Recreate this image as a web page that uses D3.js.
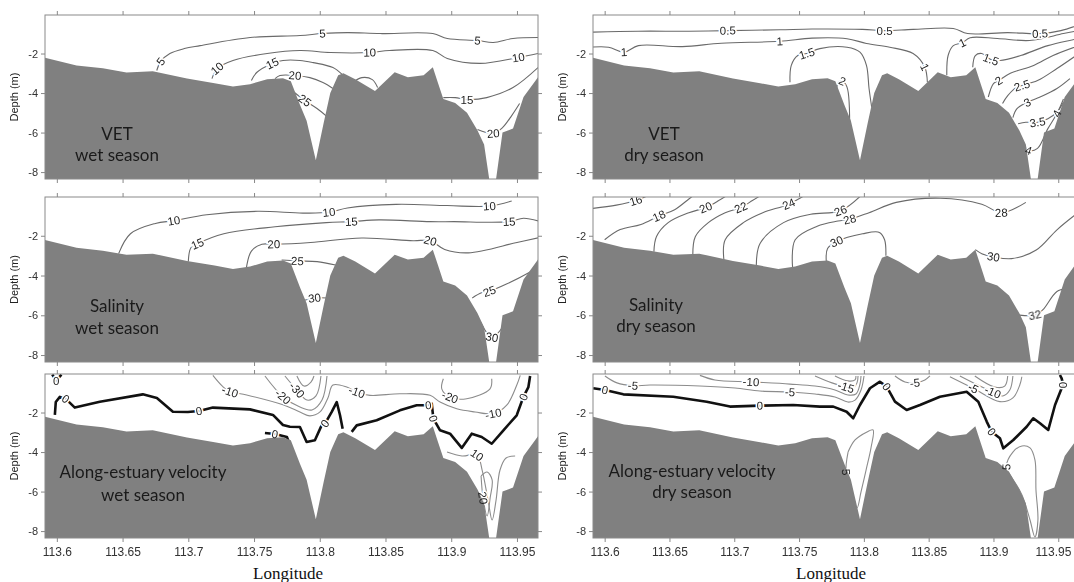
<!DOCTYPE html>
<html lang="en">
<head>
  <meta charset="UTF-8">
  <title>Contour sections</title>
  <script src="https://d3js.org/d3.v7.min.js"></script>
  <style>
    body { margin: 0; background: #fff; }
    .tick text { font-family: Arial, "Liberation Sans", sans-serif; fill: #333; }
    .tick line { stroke: #888; }
  </style>
</head>
<body>
<script>
  // tick values
  const xTicks = [113.6, 113.65, 113.7, 113.75, 113.8, 113.85, 113.9, 113.95];
  const yTicks = [-2, -4, -6, -8];

  // bottom profile (longitude, depth)
  const bathy = [[113.59,-2.2],[113.615,-2.6],[113.635,-2.75],[113.653,-2.96],[113.673,-2.9],[113.699,-3.27],[113.72,-3.5],[113.734,-3.67],[113.747,-3.55],[113.76,-3.3],[113.772,-3.25],[113.778,-3.4],[113.785,-4.6],[113.79,-5.4],[113.797,-7.4],[113.803,-5.5],[113.808,-4.0],[113.814,-3.1],[113.818,-3.0],[113.827,-3.3],[113.842,-3.9],[113.857,-2.95],[113.867,-3.2],[113.879,-3.1],[113.886,-2.7],[113.89,-3.5],[113.894,-4.3],[113.903,-4.5],[113.912,-5.0],[113.92,-5.9],[113.925,-6.6],[113.929,-8.4],[113.934,-8.4],[113.939,-6.0],[113.947,-5.8],[113.955,-4.2],[113.966,-3.2]];

  // contour lines: level, points (longitude, depth), indices of labelled points
  const vetWet = [
    {v:"5", pts:[[113.676,-2.86],[113.679,-2.4],[113.686,-2.0],[113.697,-1.75],[113.709,-1.6],[113.747,-1.19],[113.785,-1.09],[113.802,-0.99],[113.821,-0.94],[113.846,-0.99],[113.886,-0.99],[113.897,-1.24],[113.92,-1.34],[113.932,-1.44],[113.947,-1.24],[113.966,-1.19]], lab:[1,7,12]},
    {v:"10", pts:[[113.718,-3.27],[113.722,-2.76],[113.734,-2.35],[113.76,-2.0],[113.785,-1.85],[113.808,-1.95],[113.838,-1.95],[113.853,-1.85],[113.886,-1.85],[113.897,-2.25],[113.922,-2.5],[113.951,-2.2],[113.966,-2.0]], lab:[1,6,11]},
    {v:"15", pts:[[113.748,-3.37],[113.752,-2.96],[113.764,-2.5],[113.772,-2.35],[113.785,-2.35],[113.795,-2.46],[113.81,-2.71],[113.817,-3.06]], lab:[2]},
    {v:"15", pts:[[113.894,-4.23],[113.903,-4.23],[113.912,-4.33],[113.927,-4.23],[113.947,-3.72],[113.966,-2.71]], lab:[2]},
    {v:"20", pts:[[113.766,-3.27],[113.7697,-3.11],[113.7811,-3.11],[113.7925,-3.22],[113.8024,-3.47],[113.81,-3.77]], lab:[2]},
    {v:"20", pts:[[113.825,-3.47],[113.832,-3.22],[113.84,-3.32],[113.844,-3.72]], lab:[]},
    {v:"20", pts:[[113.92,-5.85],[113.932,-6.05],[113.939,-5.75],[113.946,-5.14],[113.952,-4.53]], lab:[1]},
    {v:"25", pts:[[113.7788,-3.87],[113.7887,-4.38],[113.7979,-4.78],[113.8055,-5.19]], lab:[1]}
  ];

  const vetDry = [
    {v:"0.5", pts:[[113.589,-0.92],[113.626,-0.87],[113.665,-0.87],[113.695,-0.84],[113.735,-0.8],[113.76,-0.76],[113.799,-0.78],[113.816,-0.84],[113.838,-0.78],[113.869,-0.73],[113.88,-0.99],[113.911,-0.94],[113.936,-0.99],[113.952,-0.84],[113.966,-0.55]], lab:[3,7,12]},
    {v:"1", pts:[[113.589,-1.68],[113.603,-1.68],[113.615,-1.93],[113.626,-1.6],[113.66,-1.65],[113.69,-1.48],[113.735,-1.38],[113.76,-1.22],[113.787,-1.25],[113.802,-1.49],[113.82,-1.68],[113.838,-2.0],[113.847,-2.69],[113.849,-3.45]], lab:[2,6,12]},
    {v:"1", pts:[[113.864,-3.1],[113.865,-2.1],[113.869,-1.6],[113.876,-1.45],[113.882,-1.2],[113.903,-1.24],[113.928,-1.34],[113.954,-0.99],[113.966,-0.84]], lab:[3]},
    {v:"1.5", pts:[[113.743,-3.45],[113.744,-2.6],[113.749,-2.1],[113.756,-2.0],[113.766,-1.75],[113.787,-1.68],[113.797,-1.93],[113.802,-2.6],[113.804,-3.77],[113.806,-4.7]], lab:[3]},
    {v:"1.5", pts:[[113.884,-2.69],[113.886,-2.1],[113.891,-2.0],[113.898,-2.3],[113.905,-2.35],[113.921,-2.1],[113.942,-1.6],[113.966,-1.24]], lab:[3]},
    {v:"2", pts:[[113.779,-4.0],[113.78,-3.5],[113.7834,-3.4],[113.787,-3.7],[113.789,-6.0]], lab:[2]},
    {v:"2", pts:[[113.896,-4.2],[113.9,-3.52],[113.904,-3.37],[113.913,-3.0],[113.931,-2.6],[113.946,-2.1],[113.966,-1.6]], lab:[2]},
    {v:"2.5", pts:[[113.907,-4.53],[113.911,-4.13],[113.918,-3.7],[113.922,-3.62],[113.934,-3.37],[113.949,-2.76],[113.966,-2.0]], lab:[3]},
    {v:"3", pts:[[113.915,-5.24],[113.918,-4.8],[113.926,-4.47],[113.936,-4.2],[113.949,-3.77],[113.959,-3.27]], lab:[2]},
    {v:"3.5", pts:[[113.919,-5.55],[113.925,-5.48],[113.934,-5.48],[113.942,-5.3],[113.949,-4.97],[113.954,-4.47]], lab:[2]},
    {v:"4", pts:[[113.923,-6.56],[113.927,-6.9],[113.934,-6.8],[113.942,-5.8],[113.949,-5.04],[113.954,-4.3]], lab:[1,4]}
  ];

  const salWet = [
    {v:"10", pts:[[113.647,-2.9],[113.656,-1.9],[113.675,-1.38],[113.689,-1.24],[113.714,-0.94],[113.753,-0.77],[113.787,-0.86],[113.807,-0.82],[113.821,-0.6],[113.858,-0.42],[113.897,-0.48],[113.929,-0.51],[113.946,-0.25]], lab:[3,7,11]},
    {v:"15", pts:[[113.7,-3.3],[113.702,-2.6],[113.707,-2.4],[113.727,-1.9],[113.766,-1.55],[113.805,-1.34],[113.824,-1.29],[113.845,-1.2],[113.884,-1.29],[113.902,-1.29],[113.944,-1.29],[113.955,-1.12],[113.968,-1.29]], lab:[2,6,10]},
    {v:"20", pts:[[113.744,-3.7],[113.748,-2.77],[113.756,-2.43],[113.765,-2.43],[113.793,-2.34],[113.832,-2.11],[113.871,-2.25],[113.884,-2.25],[113.895,-2.69],[113.913,-2.86],[113.95,-2.34],[113.968,-2.08]], lab:[3,7]},
    {v:"25", pts:[[113.771,-3.22],[113.783,-3.27],[113.798,-3.3],[113.812,-3.47]], lab:[1]},
    {v:"25", pts:[[113.916,-5.13],[113.923,-4.87],[113.929,-4.79],[113.942,-4.43],[113.96,-3.82],[113.968,-3.5]], lab:[2]},
    {v:"30", pts:[[113.786,-5.3],[113.796,-5.13],[113.806,-5.13]], lab:[1]},
    {v:"30", pts:[[113.922,-6.3],[113.931,-7.1],[113.94,-6.5]], lab:[1]}
  ];

  const salDry = [
    {v:"16", pts:[[113.59,-0.63],[113.609,-0.46],[113.624,-0.23],[113.636,0.1]], lab:[2]},
    {v:"18", pts:[[113.6,-2.2],[113.612,-1.69],[113.628,-1.43],[113.642,-1.0],[113.654,-0.69],[113.665,-0.15],[113.67,0.1]], lab:[3]},
    {v:"20", pts:[[113.638,-2.8],[113.64,-2.04],[113.649,-1.34],[113.665,-0.84],[113.678,-0.58],[113.688,-0.23],[113.696,0.1]], lab:[4]},
    {v:"22", pts:[[113.668,-3.0],[113.67,-2.04],[113.68,-1.34],[113.693,-0.84],[113.705,-0.58],[113.714,-0.23],[113.722,0.1]], lab:[4]},
    {v:"24", pts:[[113.692,-3.2],[113.693,-2.2],[113.707,-1.34],[113.722,-0.84],[113.742,-0.41],[113.756,0.1]], lab:[4]},
    {v:"26", pts:[[113.717,-3.5],[113.72,-2.38],[113.738,-1.34],[113.759,-0.92],[113.782,-0.74],[113.799,0.1]], lab:[4]},
    {v:"28", pts:[[113.745,-3.6],[113.747,-2.2],[113.764,-1.52],[113.78,-1.26],[113.789,-1.17],[113.804,-0.84],[113.825,-0.32],[113.859,-0.11],[113.891,-0.41],[113.906,-0.84],[113.925,-0.32]], lab:[4,9]},
    {v:"30", pts:[[113.771,-3.3],[113.772,-2.64],[113.779,-2.29],[113.799,-1.9],[113.812,-1.83],[113.816,-2.2],[113.817,-3.0]], lab:[2]},
    {v:"30", pts:[[113.886,-2.7],[113.891,-2.9],[113.9,-3.06],[113.914,-3.15],[113.933,-2.72],[113.949,-1.7],[113.966,-0.8]], lab:[2]},
    {v:"32", pts:[[113.92,-5.99],[113.932,-5.99],[113.938,-5.73],[113.949,-4.8],[113.959,-4.6],[113.966,-4.5]], lab:[1]}
  ];

  const velWet = [
    {v:"0", z:1, pts:[[113.5985,-2.12],[113.5992,-1.47],[113.6023,-1.21],[113.6068,-1.31],[113.6137,-1.75],[113.6327,-1.45],[113.6654,-1.08],[113.6761,-1.26],[113.6883,-1.96],[113.6997,-1.97],[113.7081,-1.92],[113.7187,-1.75],[113.7469,-1.84],[113.7644,-2.12],[113.772,-2.63],[113.7773,-2.72],[113.7849,-2.73],[113.79,-3.49],[113.7963,-3.4],[113.8014,-2.65],[113.804,-2.56],[113.8091,-1.97],[113.8129,-1.47],[113.8154,-2.14],[113.8174,-2.82]], lab:[3,10,20]},
    {v:"0", z:1, pts:[[113.8243,-2.98],[113.8281,-2.65],[113.8433,-2.39],[113.861,-1.89],[113.8737,-1.63],[113.8826,-1.63],[113.8852,-1.55],[113.8864,-2.31],[113.8915,-2.9],[113.8991,-3.07],[113.908,-3.79],[113.9156,-3.07],[113.9232,-3.24],[113.9308,-3.58],[113.9397,-2.9],[113.9498,-2.14],[113.9549,-1.21],[113.9587,-0.71],[113.96,-0.15]], lab:[5,7,16]},
    {v:"0", z:1, pts:[[113.7583,-3.04],[113.7659,-3.09],[113.775,-3.24],[113.7773,-3.64]], lab:[1]},
    {v:"0", z:1, pts:[[113.5965,-0.08],[113.5995,-0.38],[113.6035,-0.08]], lab:[1]},
    {v:"-10", pts:[[113.7187,-0.12],[113.7263,-0.69],[113.7317,-0.94],[113.7444,-1.11],[113.772,-1.61],[113.7849,-1.97],[113.7925,-2.17],[113.8002,-1.97],[113.8062,-1.26],[113.81,-0.61],[113.8205,-0.71],[113.8281,-0.96],[113.8382,-1.13],[113.861,-1.05],[113.8839,-1.13],[113.8915,-1.47],[113.9042,-1.81],[113.9181,-1.97],[113.932,-2.06],[113.9422,-1.63],[113.9498,-0.62],[113.9525,-0.12]], lab:[2,11,18]},
    {v:"-20", pts:[[113.7583,-0.15],[113.772,-1.2],[113.7849,-1.72],[113.7941,-1.87],[113.8017,-1.37],[113.8055,-0.15]], lab:[1]},
    {v:"-30", pts:[[113.7735,-0.15],[113.7826,-0.86],[113.7903,-1.37],[113.7971,-1.16],[113.8009,-0.15]], lab:[1]},
    {v:"-40", pts:[[113.7826,-0.15],[113.788,-0.66],[113.7933,-0.46],[113.7956,-0.15]], lab:[]},
    {v:"-20", pts:[[113.894,-0.29],[113.8928,-0.8],[113.8991,-1.22],[113.9118,-1.3],[113.9295,-0.8],[113.9308,-0.29]], lab:[2]},
    {v:"10", pts:[[113.8968,-4.0],[113.9082,-4.2],[113.9196,-4.15],[113.9235,-4.91],[113.928,-6.43],[113.9311,-7.44],[113.9341,-6.43],[113.9371,-4.91],[113.9417,-4.3],[113.9486,-4.2]], lab:[2]},
    {v:"20", pts:[[113.9227,-5.21],[113.9242,-6.32],[113.9273,-7.24],[113.9296,-6.32],[113.9311,-5.41],[113.9273,-5.01],[113.9227,-5.21]], lab:[1]}
  ];

  const velDry = [
    {v:"0", z:1, pts:[[113.5912,-0.77],[113.6002,-0.86],[113.6144,-1.08],[113.6529,-1.2],[113.6787,-1.45],[113.6967,-1.7],[113.7198,-1.65],[113.7455,-1.62],[113.7661,-1.7],[113.7764,-1.7],[113.7867,-1.96],[113.7918,-2.29],[113.797,-1.62],[113.8047,-0.77],[113.8124,-0.44],[113.8176,-0.69],[113.824,-1.45],[113.833,-1.87],[113.8433,-1.62],[113.8587,-1.2],[113.8793,-0.95],[113.8883,-1.45],[113.8948,-2.46],[113.8986,-2.97],[113.905,-3.3],[113.9076,-3.81],[113.9153,-3.39],[113.9256,-2.72],[113.9307,-2.29],[113.9359,-2.54],[113.9423,-2.88],[113.9475,-1.62],[113.9526,-0.77],[113.9539,-0.61],[113.9526,-0.27],[113.9513,-0.1]], lab:[1,6,15,23,33]},
    {v:"-5", pts:[[113.6002,-0.15],[113.6095,-0.5],[113.6218,-0.64],[113.635,-0.61],[113.6735,-0.66],[113.7006,-0.76],[113.7198,-0.91],[113.743,-0.96],[113.7623,-1.06],[113.7777,-1.21],[113.7877,-1.47],[113.7932,-1.37],[113.7978,-0.86],[113.8001,-0.15]], lab:[2,7]},
    {v:"-10", pts:[[113.6735,-0.12],[113.6851,-0.35],[113.7129,-0.45],[113.743,-0.56],[113.7623,-0.66],[113.7777,-0.86],[113.7877,-1.11],[113.7939,-1.06],[113.797,-0.56],[113.7978,-0.15]], lab:[2]},
    {v:"-15", pts:[[113.7623,-0.15],[113.7754,-0.5],[113.7862,-0.71],[113.7909,-0.81],[113.7947,-0.5],[113.7955,-0.15]], lab:[2]},
    {v:"-20", pts:[[113.7777,-0.15],[113.7877,-0.4],[113.7932,-0.35],[113.7939,-0.15]], lab:[]},
    {v:"-5", pts:[[113.824,-0.15],[113.8317,-0.45],[113.8394,-0.5],[113.8471,-0.35],[113.851,-0.15]], lab:[2]},
    {v:"-5", pts:[[113.8664,-0.19],[113.8844,-0.77],[113.905,-1.45],[113.915,-1.26],[113.9203,-0.61],[113.9219,-0.19]], lab:[1]},
    {v:"-10", pts:[[113.8741,-0.15],[113.8895,-0.66],[113.8995,-0.96],[113.9072,-1.16],[113.9126,-0.86],[113.915,-0.15]], lab:[2]},
    {v:"-15", pts:[[113.8856,-0.15],[113.901,-0.71],[113.9087,-0.66],[113.911,-0.15]], lab:[]},
    {v:"5", pts:[[113.7878,-4.0],[113.7932,-3.39],[113.8024,-2.98],[113.8071,-2.88],[113.8055,-3.79],[113.8017,-4.91],[113.7978,-6.02],[113.7947,-6.83],[113.7901,-5.92],[113.7862,-5.01],[113.7878,-4.0]], lab:[9]},
    {v:"5", pts:[[113.9143,-5.31],[113.91,-4.75],[113.915,-4.0],[113.922,-3.69],[113.9282,-3.79],[113.932,-4.4],[113.9328,-5.92],[113.9343,-7.44],[113.932,-8.3],[113.9282,-7.44],[113.922,-6.17],[113.9143,-5.31]], lab:[1]}
  ];

  const W = 1074, H = 582;
  const cols = [[45, 538], [593, 1079]];
  const rows = [[15, 179], [197, 362], [374, 538]];
  const xDomain = [113.591, 113.966];
  const yDomain = [-8.35, -0.05];

  const panels = [
    {r:0, c:0, data:vetWet, title:["VET", "wet season"], tx:117, ty:[140, 161]},
    {r:0, c:1, data:vetDry, title:["VET", "dry season"], tx:664, ty:[140, 161]},
    {r:1, c:0, data:salWet, title:["Salinity", "wet season"], tx:117, ty:[312, 334]},
    {r:1, c:1, data:salDry, title:["Salinity", "dry season"], tx:656, ty:[311, 332]},
    {r:2, c:0, data:velWet, title:["Along-estuary velocity", "wet season"], tx:143, ty:[478, 501]},
    {r:2, c:1, data:velDry, title:["Along-estuary velocity", "dry season"], tx:692, ty:[477, 498]}
  ];

  const svg = d3.select("body").append("svg")
    .attr("width", W)
    .attr("height", H);

  panels.forEach((p, k) => {
    const [x0, x1] = cols[p.c];
    const [y0, y1] = rows[p.r];
    const x = d3.scaleLinear().domain(xDomain).range([x0, x1]);
    const y = d3.scaleLinear().domain(yDomain).range([y1, y0]);
    const vel = p.r === 2;

    svg.append("clipPath").attr("id", "clip" + k)
      .append("rect").attr("x", x0).attr("y", y0).attr("width", x1 - x0).attr("height", y1 - y0);

    const g = svg.append("g").attr("clip-path", `url(#clip${k})`);

    const smooth = d3.line().x(d => x(d[0])).y(d => y(d[1])).curve(d3.curveCatmullRom.alpha(0.5));
    const straight = d3.line().x(d => x(d[0])).y(d => y(d[1]));

    // contour lines
    g.append("g").selectAll("path")
      .data(p.data)
      .enter().append("path")
      .attr("d", d => d.z ? straight(d.pts) : smooth(d.pts))
      .attr("fill", "none")
      .attr("stroke", d => d.z ? "#111" : (vel ? "#8c8c8c" : "#6a6a6a"))
      .attr("stroke-width", d => d.z ? 2.6 : 1.1)
      .attr("stroke-linejoin", "round");

    // label positions along lines
    const labels = [];
    p.data.forEach(c => {
      const n = c.pts.length;
      c.lab.forEach(i => {
        const a = c.pts[Math.max(0, i - 1)], b = c.pts[Math.min(n - 1, i + 1)];
        let ang = Math.atan2(y(b[1]) - y(a[1]), x(b[0]) - x(a[0])) * 180 / Math.PI;
        if (ang > 90) ang -= 180;
        if (ang < -90) ang += 180;
        labels.push({v: c.v, px: x(c.pts[i][0]), py: y(c.pts[i][1]), ang});
      });
    });

    // white gap under each label
    g.append("g").selectAll("text")
      .data(labels)
      .enter().append("text")
      .attr("transform", d => `translate(${d.px},${d.py}) rotate(${d.ang})`)
      .attr("text-anchor", "middle")
      .attr("dy", "0.35em")
      .attr("font-family", "Arial, 'Liberation Sans', sans-serif")
      .attr("font-size", 11.5)
      .attr("fill", "#fff")
      .attr("stroke", "#fff")
      .attr("stroke-width", 3)
      .text(d => d.v);

    // bottom
    const area = d3.area()
      .x(d => x(d[0]))
      .y0(y1 + 5)
      .y1(d => y(d[1]));
    g.append("path")
      .datum(bathy)
      .attr("d", area)
      .attr("fill", "#808080");

    g.append("g").attr("opacity", 0.99).selectAll("text")
      .data(labels)
      .enter().append("text")
      .attr("transform", d => `translate(${d.px},${d.py}) rotate(${d.ang})`)
      .attr("text-anchor", "middle")
      .attr("dy", "0.35em")
      .attr("font-family", "Arial, 'Liberation Sans', sans-serif")
      .attr("font-size", 11.5)
      .attr("fill", "#222")
      .text(d => d.v);

    // panel text
    p.title.forEach((t, j) => {
      svg.append("text")
        .attr("x", p.tx)
        .attr("y", p.ty[j])
        .attr("text-anchor", "middle")
        .attr("font-family", "Lato, 'Open Sans', sans-serif")
        .attr("font-size", 17)
        .attr("fill", "#1a1a1a")
        .text(t);
    });

    // frame and ticks
    svg.append("rect")
      .attr("x", x0).attr("y", y0)
      .attr("width", x1 - x0).attr("height", y1 - y0)
      .attr("fill", "none").attr("stroke", "#8a8a8a");

    const yAx = svg.append("g").attr("transform", `translate(${x0},0)`)
      .call(d3.axisLeft(y).tickValues(yTicks).tickSize(4).tickPadding(3).tickFormat(d => String(d)));
    yAx.selectAll("text").attr("font-size", 11);
    svg.append("g").attr("transform", `translate(${x1},0)`)
      .call(d3.axisRight(y).tickValues(yTicks).tickSize(4).tickFormat(""));
    svg.append("g").attr("transform", `translate(0,${y0})`)
      .call(d3.axisTop(x).tickValues(xTicks).tickSize(4).tickFormat(""));
    const xAx = svg.append("g").attr("transform", `translate(0,${y1})`)
      .call(d3.axisBottom(x).tickValues(xTicks).tickSize(4).tickPadding(5)
        .tickFormat(p.r === 2 ? (d => String(d)) : ""));
    xAx.selectAll("text").attr("font-size", 12);
    svg.selectAll(".domain").remove();

    svg.append("text")
      .attr("transform", `translate(${p.c === 0 ? 18 : 566},${(y0 + y1) / 2}) rotate(-90)`)
      .attr("text-anchor", "middle")
      .attr("font-family", "Arial, 'Liberation Sans', sans-serif")
      .attr("font-size", 11)
      .attr("fill", "#222")
      .text("Depth (m)");
  });

  // last bottom tick label sits at the page edge
  svg.selectAll(".tick text")
    .filter(function(d) { return d === 113.95 && this.getBoundingClientRect().right > W; })
    .attr("text-anchor", "end")
    .attr("dx", "1.05em");

  [288, 831].forEach(cx => {
    svg.append("text")
      .attr("x", cx)
      .attr("y", 579)
      .attr("text-anchor", "middle")
      .attr("font-family", "'Liberation Serif', 'Times New Roman', serif")
      .attr("font-size", 17)
      .attr("fill", "#111")
      .text("Longitude");
  });
</script>
</body>
</html>
